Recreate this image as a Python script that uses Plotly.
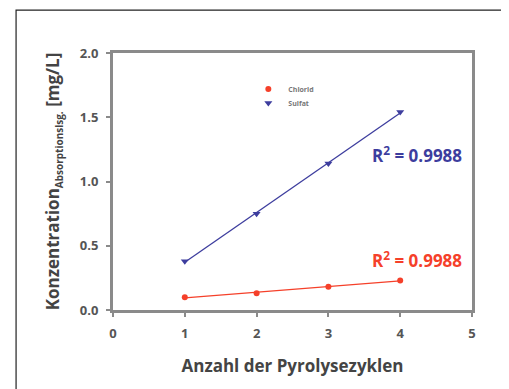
import numpy as np
import plotly.graph_objects as go

zyklen = [1, 2, 3, 4]
chlorid = [0.10, 0.13, 0.18, 0.23]
sulfat = [0.38, 0.75, 1.14, 1.54]
x_ticks = [0, 1, 2, 3, 4, 5]
y_ticks = [0.0, 0.5, 1.0, 1.5, 2.0]
r2_chlorid = "0.9988"
r2_sulfat = "0.9988"

RED = "#f5402a"
BLUE = "#3d3d9e"
AX = "#8a8a8a"
TXT = "#555555"

fig = go.Figure()

for ys, col in [(chlorid, RED), (sulfat, BLUE)]:
    k, d = np.polyfit(zyklen, ys, 1)
    xs = [zyklen[0], zyklen[-1]]
    fig.add_trace(go.Scatter(x=xs, y=[k * v + d for v in xs], mode="lines",
                             line=dict(color=col, width=1.3), showlegend=False,
                             hoverinfo="skip"))

fig.add_trace(go.Scatter(x=zyklen, y=chlorid, mode="markers", name="<b>Chlorid</b>",
                         legend="legend",
                         marker=dict(symbol="circle", size=6, color=RED)))
fig.add_trace(go.Scatter(x=zyklen, y=sulfat, mode="markers", name="<b>Sulfat</b>",
                         legend="legend2",
                         marker=dict(symbol="triangle-down", size=7, color=BLUE)))

fig.add_annotation(x=4.23, y=1.21, text="<b>R<sup>2</sup> = " + r2_sulfat + "</b>",
                   showarrow=False, font=dict(size=17, color=BLUE, family="Open Sans"),
                   xanchor="center", yanchor="middle")
fig.add_annotation(x=4.23, y=0.39, text="<b>R<sup>2</sup> = " + r2_chlorid + "</b>",
                   showarrow=False, font=dict(size=17, color=RED, family="Open Sans"),
                   xanchor="center", yanchor="middle")

fig.add_shape(type="rect", xref="paper", yref="paper", x0=-0.27, x1=1.11,
              y0=-0.4, y1=1.167, line=dict(color="#222222", width=1.2), layer="below")

axis_common = dict(showline=True, linecolor=AX, linewidth=3, mirror=True,
                   ticks="outside", ticklen=4, tickwidth=2, tickcolor=AX,
                   showgrid=False, zeroline=False, ticklabelstandoff=5,
                   tickfont=dict(size=13, color=TXT, family="Open Sans"))

leg_common = dict(xanchor="left", yanchor="middle",
                  font=dict(size=7, color="#777777"), bgcolor="rgba(0,0,0,0)",
                  itemwidth=30)

fig.update_layout(
    width=509, height=389,
    margin=dict(l=105, r=45, t=45, b=87),
    paper_bgcolor="white", plot_bgcolor="white",
    font=dict(family="Open Sans", color=TXT),
    xaxis=dict(range=[0, 5], tickvals=x_ticks,
               ticktext=["<b>%d</b>" % v for v in x_ticks],
               title=dict(text="<b>Anzahl der Pyrolysezyklen</b>", standoff=20,
                          font=dict(size=17, color="#444444")),
               **axis_common),
    yaxis=dict(range=[0, 2], tickvals=y_ticks,
               ticktext=["<b>%.1f</b>" % v for v in y_ticks],
               title=dict(text="<b>Konzentration<sub><span style='font-size:10px'>Absorptionslsg.</span></sub> [mg/L]</b>",
                          standoff=16, font=dict(size=17, color="#444444")),
               **axis_common),
    legend=dict(x=0.377, y=(310 - 89) / 257, **leg_common),
    legend2=dict(x=0.377, y=(310 - 103) / 257, **leg_common),
)

fig.write_html("out.html")
